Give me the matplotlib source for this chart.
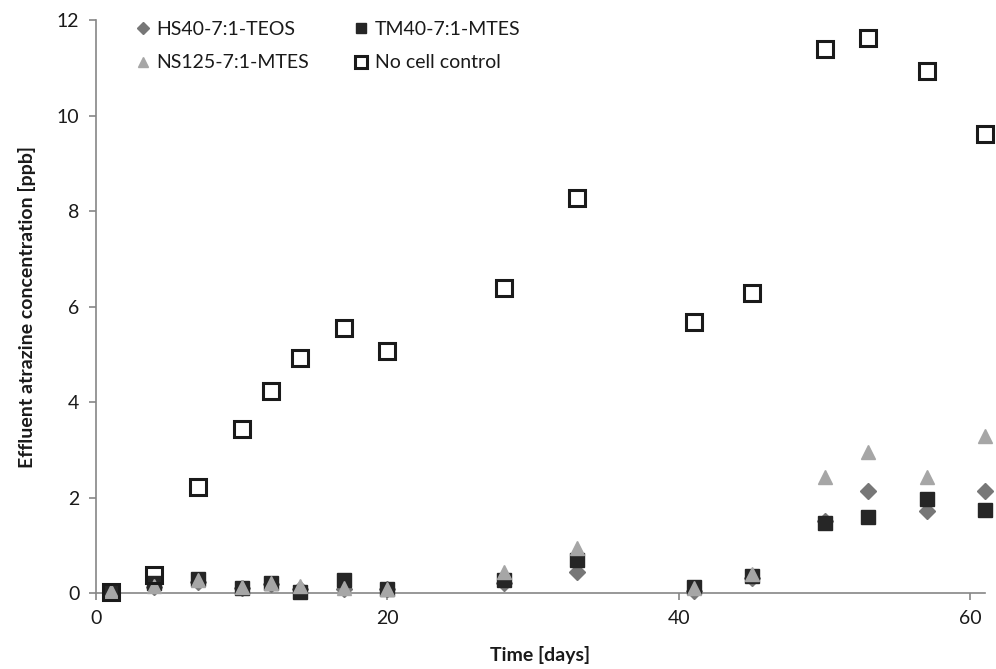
import matplotlib.pyplot as plt

plt.rcParams["font.family"] = ["Lato", "DejaVu Sans"]

days = [1, 4, 7, 10, 12, 14, 17, 20, 28, 33, 41, 45, 50, 53, 57, 61]
hs40_teos = [0.03, 0.12, 0.22, 0.10, 0.18, 0.08, 0.08, 0.08, 0.20, 0.45, 0.05, 0.32, 1.50, 2.14, 1.72, 2.14]
tm40_mtes = [0.04, 0.20, 0.29, 0.10, 0.20, 0.03, 0.27, 0.09, 0.27, 0.69, 0.12, 0.36, 1.47, 1.60, 1.97, 1.74]
ns125_mtes = [0.04, 0.15, 0.27, 0.13, 0.20, 0.15, 0.10, 0.08, 0.45, 0.94, 0.10, 0.40, 2.42, 2.95, 2.42, 3.29]
no_cell = [0.03, 0.38, 2.23, 3.43, 4.24, 4.93, 5.55, 5.07, 6.39, 8.27, 5.68, 6.28, 11.40, 11.62, 10.94, 9.61]

AXIS = "#868686"
TEXT = "#1a1a1a"

fig = plt.figure(figsize=(9.96, 6.69), dpi=100)
ax = fig.add_axes([0.0964, 0.1136, 0.8926, 0.8565])

# series drawn in worksheet order, so later ones sit on top
hs, = ax.plot(days, hs40_teos, "D", color="#777777", ms=8, mec="#777777", ls="none",
              label="HS40-7:1-TEOS", clip_on=False, zorder=3)
tm, = ax.plot(days, tm40_mtes, "s", color="#262626", ms=10, mec="#262626", ls="none",
              label="TM40-7:1-MTES", clip_on=False, zorder=3)
ns, = ax.plot(days, ns125_mtes, "^", color="#a6a6a6", ms=10, mec="#a6a6a6", ls="none",
              label="NS125-7:1-MTES", clip_on=False, zorder=3)
ctrl, = ax.plot(days, no_cell, "s", mfc="none", mec="#1a1a1a", mew=2.2, ms=11.5, ls="none",
                label="No cell control", clip_on=False, zorder=4)

ax.set_xlim(0, 61)
ax.set_ylim(0, 12)
ax.set_xticks([0, 20, 40, 60])
ax.set_yticks(range(0, 13, 2))

for side in ("top", "right"):
    ax.spines[side].set_visible(False)
for side in ("left", "bottom"):
    ax.spines[side].set_color(AXIS)
    ax.spines[side].set_linewidth(1.2)
ax.tick_params(axis="both", direction="out", length=5, width=1.2, color=AXIS,
               labelsize=14, labelcolor=TEXT, pad=7)

ax.set_xlabel("Time [days]", fontsize=14, fontweight="bold", color=TEXT, labelpad=14)
ax.set_ylabel("Effluent atrazine concentration [ppb]", fontsize=14, fontweight="bold",
              color=TEXT, labelpad=15)

leg = ax.legend(handles=[hs, ns, tm, ctrl], ncol=2, loc="upper left",
                bbox_to_anchor=(0.024, 1.029), frameon=False,
                fontsize=14, handlelength=0.8, handletextpad=0.3, columnspacing=2.3,
                labelspacing=0.85, markerscale=0.75)
for t in leg.get_texts():
    t.set_color(TEXT)

fig.savefig("out.png", dpi=100, facecolor="white")
